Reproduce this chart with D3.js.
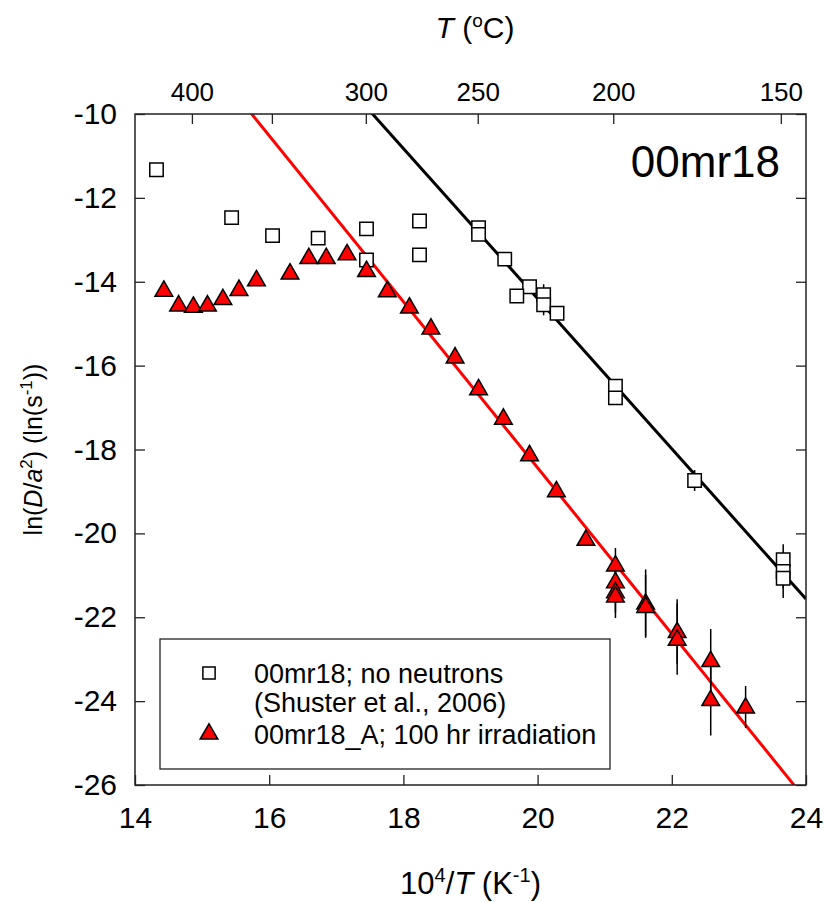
<!DOCTYPE html>
<html>
<head>
<meta charset="utf-8">
<script src="https://cdn.jsdelivr.net/npm/d3@7"></script>
<style>
  body { margin: 0; background: #fff; }
  svg { font-family: "Liberation Sans", Arial, sans-serif; }
</style>
</head>
<body>
<div id="chart"></div>
<script>
// data: x = 10^4/T (K^-1), y = ln(D/a^2), e = error bar half length
const sqX = [14.32, 15.44, 16.05, 16.73, 17.45, 17.45, 18.24, 18.24, 19.12, 19.12, 19.51, 19.88, 19.69, 20.09, 20.09, 20.29, 21.16, 21.16, 22.34, 23.66, 23.66, 23.66];
const sqY = [-11.33, -12.47, -12.90, -12.96, -12.74, -13.48, -12.55, -13.36, -12.71, -12.87, -13.46, -14.12, -14.34, -14.31, -14.55, -14.75, -16.49, -16.77, -18.74, -20.63, -20.91, -21.07];
const sqE = [0, 0, 0, 0, 0, 0, 0, 0, 0, 0, 0, 0, 0, 0.25, 0.25, 0, 0, 0, 0.25, 0.37, 0.4, 0.47];

const triX = [14.43, 14.65, 14.87, 15.08, 15.31, 15.55, 15.81, 16.31, 16.59, 16.85, 17.16, 17.45, 17.76, 18.09, 18.41, 18.77, 19.12, 19.49, 19.88, 20.28, 20.72, 21.16, 21.16, 21.16, 21.16, 21.61, 21.61, 22.08, 22.08, 22.58, 22.58, 23.10];
const triY = [-14.20, -14.55, -14.58, -14.55, -14.40, -14.18, -13.95, -13.79, -13.42, -13.42, -13.33, -13.73, -14.21, -14.60, -15.10, -15.79, -16.55, -17.25, -18.12, -18.98, -20.14, -20.75, -21.15, -21.39, -21.49, -21.66, -21.74, -22.34, -22.52, -23.03, -23.96, -24.14];
const triE = [0, 0, 0, 0, 0, 0, 0, 0, 0, 0, 0, 0, 0, 0, 0, 0, 0, 0, 0, 0, 0, 0.4, 0.5, 0.5, 0.53, 0.8, 0.75, 0.77, 0.85, 0.75, 0.86, 0.5];

// fitted arrhenius lines, y = slope * x + intercept
const fitRed = {slope: -1.98, intercept: 21.165};
const fitBlack = {slope: -1.79, intercept: 21.397};

const xTicks = [14, 16, 18, 20, 22, 24];
const yTicks = [-10, -12, -14, -16, -18, -20, -22, -24, -26];
const tempTicks = [400, 350, 300, 250, 200, 150];
const tempLabels = [400, 300, 250, 200, 150];

const legendText = ["00mr18; no neutrons", "(Shuster et al., 2006)", "00mr18_A; 100 hr irradiation"];

const width = 827, height = 902;
const margin = {top: 114, right: 21, bottom: 117, left: 135};
const plotW = width - margin.left - margin.right;
const plotH = height - margin.top - margin.bottom;

let svg = d3.select("#chart")
    .append("svg")
    .attr("width", width)
    .attr("height", height);

let x = d3.scaleLinear().domain([14, 24]).range([margin.left, margin.left + plotW]);
let y = d3.scaleLinear().domain([-26, -10]).range([margin.top + plotH, margin.top]);
let toInvK = function(c) { return 1e4 / (c + 273.15); };

svg.append("clipPath")
    .attr("id", "clip")
    .append("rect")
    .attr("x", x(14)).attr("y", y(-10))
    .attr("width", plotW).attr("height", plotH);

// fit lines
[[fitRed, "#ff0000"], [fitBlack, "#000"]].forEach(function(f) {
  let fit = f[0];
  let xs = [14, 24];
  svg.append("path")
      .attr("clip-path", "url(#clip)")
      .attr("fill", "none")
      .attr("stroke", f[1])
      .attr("stroke-width", 3)
      .attr("d", d3.line()
        .x(function(d) { return x(d); })
        .y(function(d) { return y(fit.slope * d + fit.intercept); })(xs));
});

let sqData = sqX.map(function(d, i) { return {x: d, y: sqY[i], e: sqE[i]}; });
let triData = triX.map(function(d, i) { return {x: d, y: triY[i], e: triE[i]}; });

// error bars
svg.append("g").selectAll("line")
    .data(sqData.concat(triData).filter(function(d) { return d.e > 0; }))
    .enter()
    .append("line")
    .attr("x1", function(d) { return x(d.x); })
    .attr("x2", function(d) { return x(d.x); })
    .attr("y1", function(d) { return y(d.y - d.e); })
    .attr("y2", function(d) { return y(d.y + d.e); })
    .attr("stroke", "#000")
    .attr("stroke-width", 1.5);

let sqSym = d3.symbol().type(d3.symbolSquare).size(180);
let triSym = d3.symbol().type(d3.symbolTriangle).size(135);

svg.append("g").selectAll("path")
    .data(sqData)
    .enter()
    .append("path")
    .attr("d", sqSym)
    .attr("transform", function(d) { return `translate(${x(d.x)},${y(d.y)})`; })
    .attr("fill", "#fff")
    .attr("stroke", "#000")
    .attr("stroke-width", 1.5);

svg.append("g").selectAll("path")
    .data(triData)
    .enter()
    .append("path")
    .attr("d", triSym)
    .attr("transform", function(d) { return `translate(${x(d.x)},${y(d.y) + 1})`; })
    .attr("fill", "#ff0000")
    .attr("stroke", "#000")
    .attr("stroke-width", 1.5);

// frame
svg.append("rect")
    .attr("x", x(14)).attr("y", y(-10))
    .attr("width", plotW).attr("height", plotH)
    .attr("fill", "none")
    .attr("stroke", "#222")
    .attr("stroke-width", 1.5);

// bottom axis, ticks inside
svg.append("g")
    .attr("transform", `translate(0,${y(-26)})`)
    .call(d3.axisBottom(x).tickValues(xTicks).tickSize(-10).tickPadding(22).tickFormat(d3.format("d")))
    .call(function(g) { g.select(".domain").remove(); })
    .call(function(g) { g.selectAll("line").attr("stroke", "#222").attr("stroke-width", 1.3); })
    .call(function(g) { g.selectAll("text").attr("font-size", 30).attr("fill", "#000").attr("font-family", "Liberation Sans, Arial, sans-serif"); });

// left axis
svg.append("g")
    .attr("transform", `translate(${x(14)},0)`)
    .call(d3.axisLeft(y).tickValues(yTicks).tickSize(-10).tickPadding(18).tickFormat(d3.format("d")))
    .call(function(g) { g.select(".domain").remove(); })
    .call(function(g) { g.selectAll("line").attr("stroke", "#222").attr("stroke-width", 1.3); })
    .call(function(g) { g.selectAll("text").attr("font-size", 30).attr("fill", "#000").attr("font-family", "Liberation Sans, Arial, sans-serif").text(function(d) { return d3.format("d")(d).replace("\u2212", "-"); }); });

// right axis ticks
svg.append("g")
    .attr("transform", `translate(${x(24)},0)`)
    .call(d3.axisRight(y).tickValues(yTicks).tickSize(-10).tickFormat(""))
    .call(function(g) { g.select(".domain").remove(); })
    .call(function(g) { g.selectAll("line").attr("stroke", "#222").attr("stroke-width", 1.3); });

// top axis in degrees C
let topAxis = svg.append("g")
    .attr("transform", `translate(0,${y(-10)})`);
topAxis.selectAll("line")
    .data(tempTicks)
    .enter()
    .append("line")
    .attr("x1", function(d) { return x(toInvK(d)); })
    .attr("x2", function(d) { return x(toInvK(d)); })
    .attr("y1", 0).attr("y2", 10)
    .attr("stroke", "#222").attr("stroke-width", 1.3);
topAxis.selectAll("text")
    .data(tempLabels)
    .enter()
    .append("text")
    .attr("x", function(d) { return x(toInvK(d)); })
    .attr("y", -13)
    .attr("text-anchor", "middle")
    .attr("font-size", 26)
    .text(function(d) { return d; });

// axis titles
let xt = svg.append("text")
    .attr("x", (x(14) + x(24)) / 2)
    .attr("y", 894)
    .attr("text-anchor", "middle")
    .attr("font-size", 31);
xt.append("tspan").text("10");
xt.append("tspan").attr("dy", -12).attr("font-size", 20).text("4");
xt.append("tspan").attr("dy", 12).text("/");
xt.append("tspan").attr("font-style", "italic").text("T");
xt.append("tspan").text(" (K");
xt.append("tspan").attr("dy", -12).attr("font-size", 20).text("-1");
xt.append("tspan").attr("dy", 12).text(")");

let tt = svg.append("text")
    .attr("x", 475)
    .attr("y", 38)
    .attr("text-anchor", "middle")
    .attr("font-size", 30);
tt.append("tspan").attr("font-style", "italic").text("T");
tt.append("tspan").text(" (");
tt.append("tspan").attr("dy", -11).attr("font-size", 19).text("o");
tt.append("tspan").attr("dy", 11).text("C)");

let yt = svg.append("text")
    .attr("transform", `translate(42,${(y(-10) + y(-26)) / 2}) rotate(-90)`)
    .attr("text-anchor", "middle")
    .attr("font-size", 25);
yt.append("tspan").text("ln(");
yt.append("tspan").attr("font-style", "italic").text("D");
yt.append("tspan").text("/");
yt.append("tspan").attr("font-style", "italic").text("a");
yt.append("tspan").attr("dy", -10).attr("font-size", 17).text("2");
yt.append("tspan").attr("dy", 10).text(") (ln(s");
yt.append("tspan").attr("dy", -10).attr("font-size", 17).text("-1");
yt.append("tspan").attr("dy", 10).text("))");

// sample label
svg.append("text")
    .attr("x", 780)
    .attr("y", 177)
    .attr("text-anchor", "end")
    .attr("font-size", 44)
    .text("00mr18");

// legend
let leg = svg.append("g");
leg.append("rect")
    .attr("x", 160).attr("y", 639)
    .attr("width", 450).attr("height", 130)
    .attr("fill", "#fff")
    .attr("stroke", "#222")
    .attr("stroke-width", 1.3);
leg.append("path")
    .attr("d", d3.symbol().type(d3.symbolSquare).size(150))
    .attr("transform", "translate(209,673)")
    .attr("fill", "#fff").attr("stroke", "#000").attr("stroke-width", 1.5);
leg.append("path")
    .attr("d", triSym)
    .attr("transform", "translate(209,734)")
    .attr("fill", "#ff0000").attr("stroke", "#000").attr("stroke-width", 1.5);
leg.selectAll("text.lt")
    .data(legendText)
    .enter()
    .append("text")
    .attr("class", "lt")
    .attr("x", 254)
    .attr("y", function(d, i) { return [683, 712, 744][i]; })
    .attr("font-size", 27)
    .text(function(d) { return d; });
</script>
</body>
</html>
